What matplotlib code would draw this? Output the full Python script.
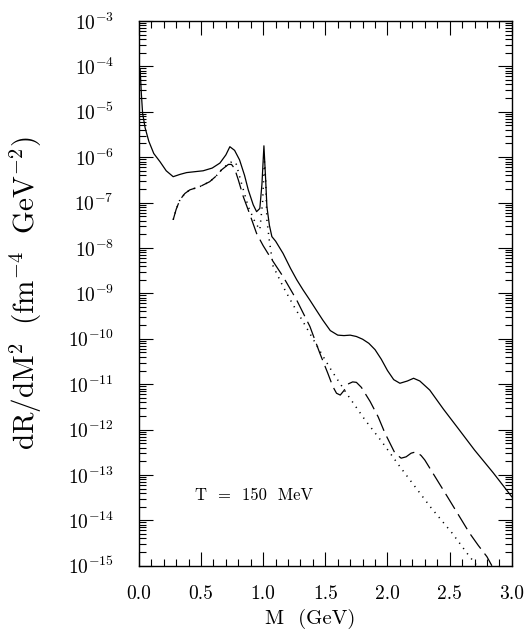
"""Thermal dilepton rate dR/dM^2 vs invariant mass, T = 150 MeV."""

import numpy as np
import matplotlib
matplotlib.use("Agg")
import matplotlib.pyplot as plt
from matplotlib.ticker import FixedLocator, LogLocator, NullFormatter

plt.rcParams["mathtext.fontset"] = "cm"
plt.rcParams["font.family"] = ["cmr10", "DejaVu Serif"]
plt.rcParams["axes.formatter.use_mathtext"] = True

# =============================================================================
# Curves: M [GeV], log10(dR/dM^2)
solid_M = [0.01, 0.02, 0.03, 0.05, 0.08, 0.12, 0.17, 0.22, 0.276, 0.33,
           0.384, 0.45, 0.517, 0.59, 0.652, 0.70, 0.732, 0.77, 0.81, 0.85,
           0.88, 0.92, 0.947, 0.973, 0.99, 1.006, 1.02, 1.03, 1.05, 1.07,
           1.10, 1.16, 1.22, 1.27, 1.32, 1.376, 1.43, 1.48, 1.54, 1.60,
           1.65, 1.70, 1.75, 1.80, 1.85, 1.90, 1.95, 2.00, 2.05, 2.10,
           2.16, 2.21, 2.26, 2.34, 2.45, 2.57, 2.70, 2.85, 3.00]
solid_log = [-4.05, -4.6, -5.03, -5.35, -5.65, -5.92, -6.10, -6.30, -6.43,
             -6.38, -6.34, -6.32, -6.30, -6.24, -6.13, -5.95, -5.77, -5.85,
             -6.06, -6.40, -6.72, -7.05, -7.20, -7.13, -6.6, -5.75, -6.5,
             -7.09, -7.50, -7.75, -7.85, -8.12, -8.45, -8.70, -8.92, -9.15,
             -9.38, -9.59, -9.82, -9.92, -9.93, -9.92, -9.95, -10.01, -10.10,
             -10.24, -10.45, -10.70, -10.90, -10.98, -10.93, -10.87, -10.93,
             -11.13, -11.55, -11.98, -12.45, -12.95, -13.48]

dash_M = [0.276, 0.30, 0.33, 0.37, 0.41, 0.49, 0.57, 0.62, 0.665, 0.72,
          0.745, 0.77, 0.80, 0.84, 0.89, 0.947, 1.00, 1.054, 1.16, 1.27,
          1.376, 1.456, 1.52, 1.56, 1.59, 1.62, 1.65, 1.68, 1.72, 1.75,
          1.79, 1.86, 1.925, 1.98, 2.02, 2.06, 2.11, 2.15, 2.19, 2.23,
          2.27, 2.30, 2.39, 2.48, 2.58, 2.66, 2.73, 2.80, 2.84]
dash_log = [-7.38, -7.15, -6.94, -6.80, -6.72, -6.65, -6.54, -6.42, -6.28,
            -6.16, -6.16, -6.25, -6.50, -6.87, -7.24, -7.68, -7.95, -8.19,
            -8.63, -9.15, -9.73, -10.32, -10.76, -11.05, -11.20, -11.24,
            -11.14, -11.00, -10.95, -10.96, -11.07, -11.38, -11.72, -12.08,
            -12.30, -12.52, -12.63, -12.60, -12.52, -12.49, -12.57, -12.67,
            -13.07, -13.47, -13.92, -14.28, -14.55, -14.80, -15.0]

dot_M = [0.276, 0.30, 0.33, 0.37, 0.41, 0.49, 0.57, 0.62, 0.665, 0.72,
         0.75, 0.78, 0.826, 0.88, 0.933, 0.973, 0.995, 1.01, 1.02, 1.03,
         1.05, 1.08, 1.16, 1.24, 1.32, 1.40, 1.48, 1.55, 1.68, 1.82,
         1.95, 2.09, 2.20, 2.35, 2.52, 2.65, 2.72]
dot_log = [-7.38, -7.15, -6.94, -6.80, -6.72, -6.65, -6.54, -6.42, -6.28,
           -6.14, -6.10, -6.12, -6.58, -7.09, -7.42, -7.60, -7.0, -6.1,
           -6.5, -7.38, -7.85, -8.40, -8.85, -9.25, -9.62, -10.0, -10.38,
           -10.70, -11.24, -11.79, -12.25, -12.78, -13.18, -13.72, -14.28,
           -14.76, -15.0]

# =============================================================================
fig = plt.figure(figsize=(5.26, 6.35), dpi=100)
ax = fig.add_axes([0.264, 0.109, 0.709, 0.858])

ax.plot(solid_M, 10 ** np.array(solid_log), color="black", lw=0.9)
ax.plot(dash_M, 10 ** np.array(dash_log), color="black", lw=0.9,
        dashes=(14, 5))
ax.plot(dot_M, 10 ** np.array(dot_log), color="black", lw=1.1,
        dashes=(0.8, 3.5))

ax.set_yscale("log")
ax.set_xlim(0, 3.0)
ax.set_ylim(1e-15, 1e-3)

# Ticks
ax.xaxis.set_major_locator(FixedLocator([0.0, 0.5, 1.0, 1.5, 2.0, 2.5, 3.0]))
ax.xaxis.set_minor_locator(FixedLocator(np.arange(0, 3.01, 0.1)))
ax.set_xticklabels(["0.0", "0.5", "1.0", "1.5", "2.0", "2.5", "3.0"])
ax.yaxis.set_major_locator(FixedLocator([10.0 ** e for e in range(-15, -2)]))
ax.yaxis.set_minor_locator(LogLocator(base=10, subs=np.arange(2, 10),
                                      numticks=100))
ax.yaxis.set_minor_formatter(NullFormatter())
ax.set_yticklabels([rf"$10^{{{e}}}$" for e in range(-15, -2)])

ax.tick_params(which="both", direction="in", top=True, right=True,
               width=0.8, labelsize=14)
ax.tick_params(which="major", length=10)
ax.tick_params(which="minor", length=5)
ax.tick_params(axis="x", which="major", pad=14)
ax.tick_params(axis="y", which="major", pad=18)
for s in ax.spines.values():
    s.set_linewidth(1.0)

ax.set_xlabel("M  (GeV)", fontsize=15)
ax.xaxis.set_label_coords(0.46, -0.080)
ax.set_ylabel(r"$\mathrm{dR/dM^2\ \ (fm^{-4}\ \ GeV^{-2})}$", fontsize=21)
ax.yaxis.set_label_coords(-0.255, 0.5)

ax.text(0.45, 10 ** -13.44, "T  =  150  MeV", fontsize=12,
        va="center", ha="left")

fig.savefig("out.png", dpi=100)
